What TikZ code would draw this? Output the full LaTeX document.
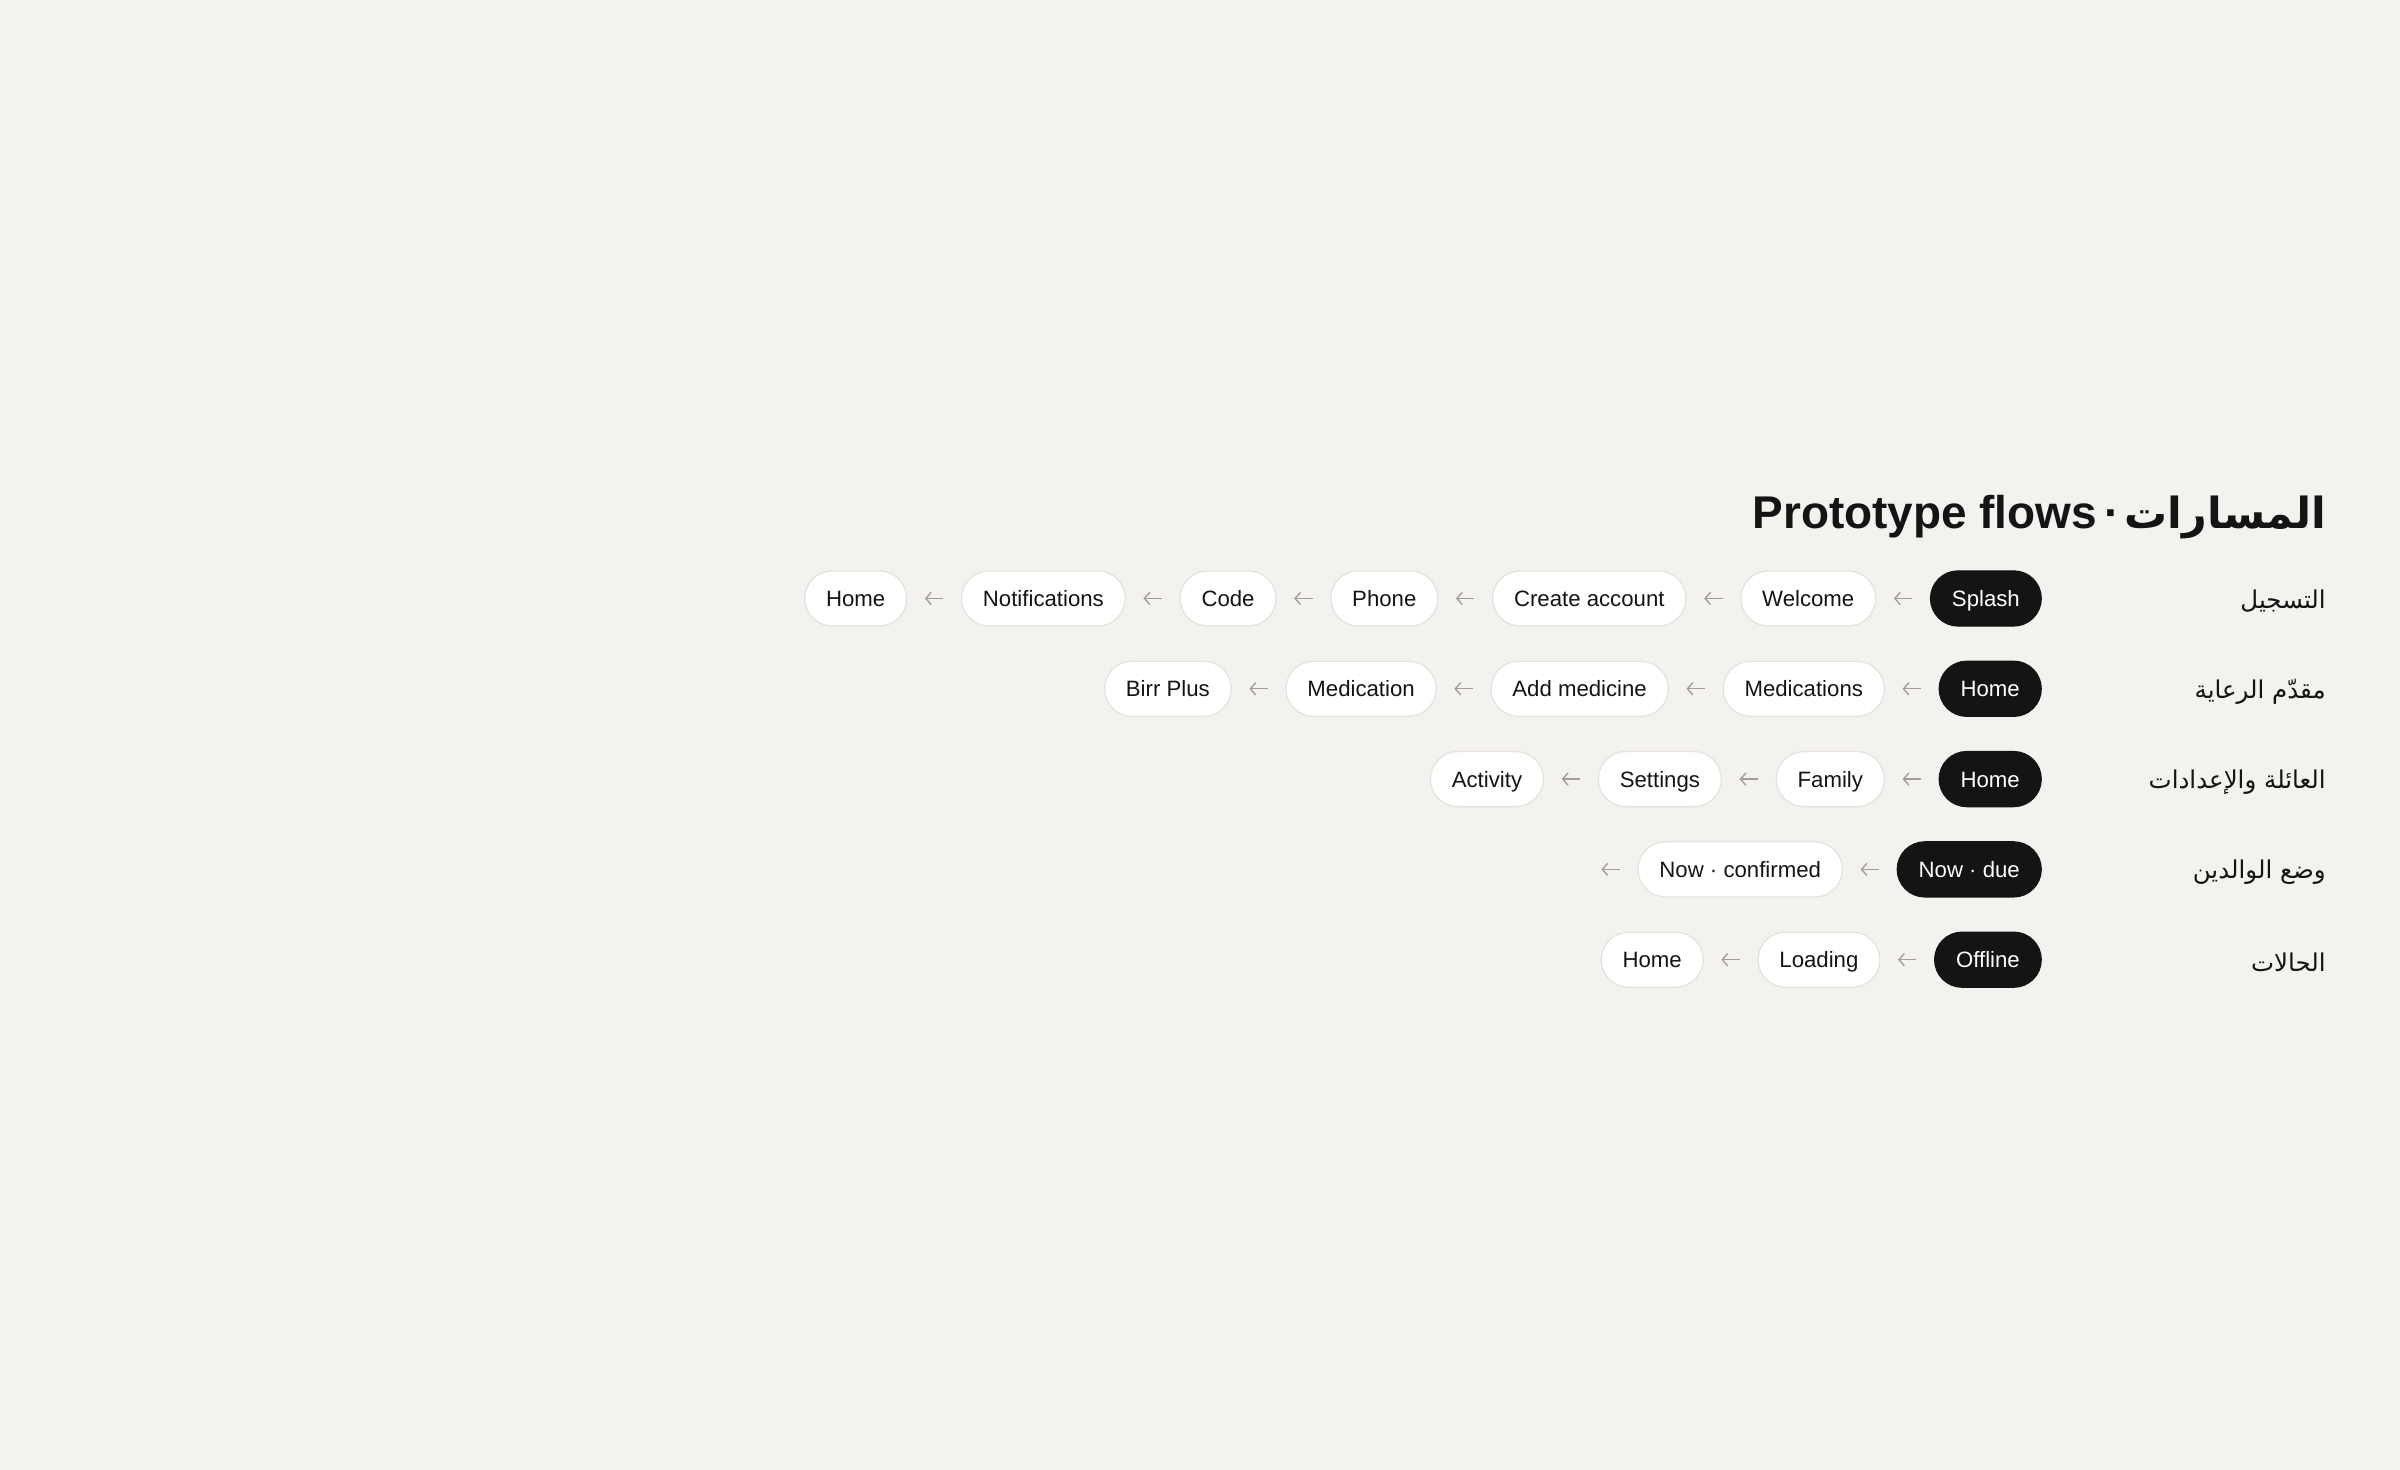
\documentclass[tikz,border=0pt]{standalone}
\usepackage{fontspec}
\setmainfont{Liberation Sans}
\newfontfamily\arabicfont[Script=Arabic]{DejaVu Sans}
\TeXXeTstate=1
\usetikzlibrary{positioning,arrows.meta}
\definecolor{paper}{HTML}{F3F2EE}
\definecolor{ink}{HTML}{141414}
\definecolor{rim}{HTML}{E6E3DD}
\definecolor{arrowgrey}{HTML}{A29D97}
\tikzset{
  screen/.style={draw=rim, line width=0.8pt, fill=white, text=ink, rounded corners=18pt,
    minimum height=36pt, inner xsep=14pt, inner ysep=0pt,
    text height=10.4pt, text depth=0pt, font=\fontsize{14.5}{16}\selectfont},
  start/.style={screen, draw=ink, fill=ink, text=white},
  rowlabel/.style={anchor=east, text=ink, font=\arabicfont\fontsize{16}{18}\selectfont},
  flow/.style={-{Straight Barb[length=3.5pt,width=8pt]}, arrowgrey, line width=0.9pt,
    shorten >=11.5pt, shorten <=11.5pt}
}
\begin{document}
\begin{tikzpicture}[node distance=35pt]
    \useasboundingbox (0,0) rectangle (1568pt,-960.4pt);
    \fill[paper] (0,0) rectangle (1568pt,-960.4pt);

    \node[anchor=base east, text=ink, inner sep=0pt, font=\bfseries\fontsize{30}{34}\selectfont] (title)
      at (1520pt,-345pt) {Prototype flows\hspace{5pt}·\hspace{3pt}{\arabicfont\fontsize{28}{34}\selectfont\beginR المسارات\endR}};

    % rows
    \node[rowlabel] (signup) at (1523pt,-393pt) {\beginR التسجيل\endR};
    \node[rowlabel] (carer) at (1523pt,-452pt) {\beginR مقدّم الرعاية\endR};
    \node[rowlabel] (family) at (1523pt,-511pt) {\beginR العائلة والإعدادات\endR};
    \node[rowlabel] (parent) at (1523pt,-570pt) {\beginR وضع الوالدين\endR};
    \node[rowlabel] (states) at (1523pt,-629pt) {\beginR الحالات\endR};

    \node[start, anchor=east] (splash) at (1334pt,-391pt) {Splash};
    \node[screen, left=of splash] (welcome) {Welcome};
    \node[screen, left=of welcome] (create) {Create account};
    \node[screen, left=of create] (phone) {Phone};
    \node[screen, left=of phone] (code) {Code};
    \node[screen, left=of code] (notif) {Notifications};
    \node[screen, left=of notif] (home1) {Home};
    \draw[flow] (splash) edge (welcome) (welcome) edge (create) (create) edge (phone)
                (phone) edge (code) (code) edge (notif) (notif) edge (home1);

    \node[start, anchor=east] (home2) at (1334pt,-450pt) {Home};
    \node[screen, left=of home2] (meds) {Medications};
    \node[screen, left=of meds] (addmed) {Add medicine};
    \node[screen, left=of addmed] (med) {Medication};
    \node[screen, left=of med] (birr) {Birr Plus};
    \draw[flow] (home2) edge (meds) (meds) edge (addmed) (addmed) edge (med)
                (med) edge (birr);

    \node[start, anchor=east] (home3) at (1334pt,-509pt) {Home};
    \node[screen, left=of home3] (fam) {Family};
    \node[screen, left=of fam] (settings) {Settings};
    \node[screen, left=of settings] (activity) {Activity};
    \draw[flow] (home3) edge (fam) (fam) edge (settings) (settings) edge (activity);

    \node[start, anchor=east] (due) at (1334pt,-568pt) {Now · due};
    \node[screen, left=of due] (confirmed) {Now · confirmed};
    \coordinate[left=of confirmed] (next);
    \draw[flow] (due) edge (confirmed) (confirmed) edge (next);

    \node[start, anchor=east] (offline) at (1334pt,-627pt) {Offline};
    \node[screen, left=of offline] (loading) {Loading};
    \node[screen, left=of loading] (home4) {Home};
    \draw[flow] (offline) edge (loading) (loading) edge (home4);
\end{tikzpicture}
\end{document}
